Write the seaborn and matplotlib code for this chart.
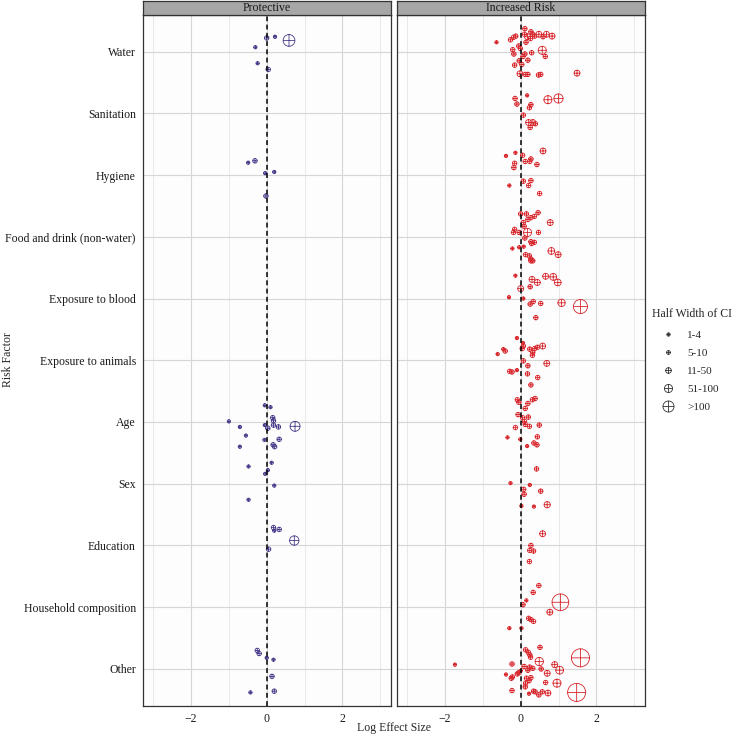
import numpy as np
import pandas as pd
import matplotlib
matplotlib.use("Agg")
import matplotlib.pyplot as plt
from matplotlib.path import Path
from matplotlib.lines import Line2D
import seaborn as sns

# ---- data ----
risk_factors = ["Water", "Sanitation", "Hygiene", "Food and drink (non-water)",
                "Exposure to blood", "Exposure to animals", "Age", "Sex",
                "Education", "Household composition", "Other"]
panels = ["Protective", "Increased Risk"]

# protective estimates (number of points per risk factor, in order)
prot_counts = [6, 0, 5, 0, 0, 0, 17, 6, 5, 0, 7]
prot_effect = [0.00, 0.22, 0.59, -0.30, -0.24, 0.04,
               -0.49, -0.31, -0.04, 0.20, -0.02,
               -0.05, 0.10, 0.16, 0.18, -1.00, -0.05, 0.18, 0.03, 0.31, 0.75, -0.71, -0.55, -0.06, 0.33, -0.71, 0.17, 0.21,
               -0.48, 0.13, 0.03, -0.04, 0.20, -0.48,
               0.18, 0.33, 0.20, 0.73, 0.05,
               -0.25, -0.20, 0.00, 0.18, 0.14, -0.43, 0.20]
prot_jitter = [-0.22, -0.24, -0.18, -0.07, 0.19, 0.29,
               -0.20, -0.23, -0.03, -0.05, 0.34,
               -0.27, -0.24, -0.07, -0.02, -0.01, 0.05, 0.05, 0.10, 0.08, 0.07, 0.08, 0.22, 0.29, 0.28, 0.40, 0.37, 0.40,
               -0.28, -0.34, -0.22, -0.16, 0.03, 0.26,
               -0.29, -0.26, -0.24, -0.08, 0.06,
               -0.30, -0.25, -0.18, -0.15, 0.12, 0.38, 0.36]
prot_halfwidth = [15, 3, 170, 3, 3, 15,
                  3, 15, 3, 3, 15,
                  3, 3, 15, 15, 3, 3, 15, 15, 15, 120, 3, 3, 3, 15, 3, 15, 15,
                  3, 3, 3, 3, 3, 3,
                  15, 15, 3, 105, 15,
                  15, 15, 3, 3, 15, 3, 15]

# increased-risk estimates
risk_counts = [35, 12, 15, 28, 16, 22, 20, 9, 5, 11, 38]
risk_effect = [
    0.11, 0.27, 0.10, 0.32, 0.48, 0.68, 0.83, 0.18, 0.59, 0.37, 0.26, 0.14, -0.13, -0.19, -0.27, -0.64, -0.05, -0.01,
    -0.21, 0.57, -0.18, 0.11, 0.29, 0.06, 0.65, -0.04, 0.19, 0.03, -0.16, -0.02, 0.12, 0.19, 0.47, 0.53, 1.49,
    0.17, -0.15, 0.72, 1.00, -0.10, 0.27, 0.23, 0.07, 0.21, 0.32, 0.39, 0.25,
    0.59, -0.14, -0.39, 0.05, 0.27, 0.12, 0.24, 0.43, -0.16, -0.18, 0.07, 0.27, -0.30, 0.21, 0.50,
    0.00, 0.15, 0.46, 0.36, 0.27, 0.19, 0.78, 0.07, 0.09, -0.16, -0.19, -0.04, 0.18, 0.47, 0.11, 0.27, 0.36, 0.29,
    -0.22, -0.04, 0.08, 0.81, 0.99, 0.13, 0.23, 0.27, 0.32, 0.27,
    -0.14, 0.30, 0.44, 0.66, 0.86, 0.98, 0.25, 0.00, -0.31, 0.07, 0.33, 0.25, 0.53, 1.08, 1.58, 0.40,
    -0.10, 0.06, 0.07, 0.58, 0.44, 0.37, 0.24, 0.04, 0.32, 0.31, -0.46, -0.41, -0.61, 0.69, 0.07, 0.19, -0.29, -0.23,
    -0.10, 0.18, 0.45, 0.27,
    -0.09, -0.05, 0.31, 0.38, 0.19, 0.12, -0.07, 0.20, 0.05, 0.10, 0.12, 0.23, 0.49, -0.14, -0.35, -0.01, 0.44, 0.35,
    0.43, 0.17,
    0.42, -0.27, 0.24, 0.08, 0.53, 0.09, 0.02, 0.35, 0.70,
    0.58, 0.27, 0.24, 0.34, 0.23,
    0.48, 0.33, 0.15, 0.06, 1.05, 0.77, 0.21, 0.27, 0.34, -0.30, 0.02,
    0.51, 0.13, 0.20, 0.24, 0.26, 1.58, 0.49, 0.90, 1.03, -1.74, -0.23, 0.09, 0.24, 0.32, 0.54, 0.19, 0.00, -0.05,
    -0.09, -0.39, 0.70, -0.25, -0.22, 0.15, 0.27, 0.22, 0.13, 0.12, 0.66, 0.96, 1.48, -0.23, 0.22, 0.34, 0.38, 0.48,
    0.57, 0.72]
risk_jitter = [
    -0.37, -0.32, -0.28, -0.28, -0.28, -0.28, -0.25, -0.24, -0.24, -0.25, -0.21, -0.15, -0.25, -0.23, -0.19, -0.15,
    -0.09, -0.05, -0.03, -0.02, 0.04, 0.04, 0.02, 0.08, 0.08, 0.15, 0.14, 0.21, 0.22, 0.36, 0.37, 0.37, 0.38, 0.37, 0.35,
    -0.29, -0.24, -0.22, -0.24, -0.15, -0.14, -0.09, 0.03, 0.15, 0.15, 0.17, 0.23,
    -0.39, -0.36, -0.31, -0.32, -0.26, -0.22, -0.22, -0.17, -0.19, -0.12, 0.10, 0.09, 0.17, 0.17, 0.30,
    -0.37, -0.37, -0.39, -0.33, -0.31, -0.28, -0.23, -0.23, -0.17, -0.12, -0.07, -0.07, -0.07, -0.07, 0.02, 0.08,
    0.09, 0.11, 0.19, 0.17, 0.16, 0.23, 0.29, 0.29, 0.31, 0.36, 0.39, 0.39,
    -0.37, -0.31, -0.26, -0.36, -0.35, -0.26, -0.19, -0.16, -0.02, 0.00, 0.05, 0.09, 0.08, 0.07, 0.13, 0.31,
    -0.36, -0.28, -0.23, -0.23, -0.21, -0.19, -0.18, -0.19, -0.13, -0.08, -0.18, -0.15, -0.10, 0.05, 0.01, 0.09,
    0.18, 0.19, 0.16, 0.22, 0.28, 0.40,
    -0.36, -0.32, -0.36, -0.38, -0.30, -0.22, -0.12, -0.08, -0.07, -0.01, 0.04, 0.07, 0.05, 0.09, 0.25, 0.28, 0.24,
    0.34, 0.37, 0.39,
    -0.24, -0.01, 0.02, 0.09, 0.12, 0.17, 0.36, 0.37, 0.34,
    -0.19, 0.00, 0.08, 0.09, 0.26,
    -0.35, -0.24, -0.11, -0.04, -0.08, 0.08, 0.18, 0.20, 0.23, 0.34, 0.34,
    -0.35, -0.31, -0.27, -0.23, -0.19, -0.18, -0.12, -0.07, 0.02, -0.07, -0.08, -0.04, -0.03, -0.01, 0.00, 0.02,
    0.03, 0.06, 0.08, 0.09, 0.07, 0.15, 0.13, 0.15, 0.14, 0.19, 0.23, 0.29, 0.22, 0.23, 0.38, 0.35, 0.40, 0.36,
    0.37, 0.42, 0.37, 0.39]
risk_halfwidth = [
    15, 15, 15, 15, 35, 35, 35, 35, 15, 15, 15, 15, 15, 15, 15, 3, 15, 15, 15, 75, 15, 15, 15, 15, 15, 15, 15, 15,
    15, 35, 15, 15, 15, 15, 35,
    3, 15, 75, 100, 15, 15, 15, 15, 35, 35, 15, 15,
    35, 3, 3, 15, 15, 15, 15, 15, 15, 15, 15, 15, 3, 15, 15,
    15, 15, 15, 15, 15, 15, 35, 15, 15, 15, 15, 15, 75, 15, 15, 15, 15, 15, 3, 3, 3, 50, 35, 15, 15, 15, 15, 15,
    3, 35, 35, 35, 50, 50, 15, 35, 3, 3, 15, 15, 15, 60, 250, 15,
    3, 3, 15, 35, 15, 15, 15, 15, 15, 15, 3, 15, 3, 35, 15, 15, 15, 15, 3, 15, 15, 15,
    15, 15, 15, 15, 15, 15, 15, 15, 15, 15, 15, 15, 15, 15, 3, 3, 15, 15, 15, 3,
    15, 3, 3, 15, 15, 15, 3, 3, 40,
    35, 15, 15, 15, 15,
    15, 15, 3, 15, 360, 35, 15, 15, 15, 3, 3,
    15, 15, 15, 15, 15, 420, 80, 35, 70, 3, 15, 15, 15, 15, 15, 15, 3, 15, 15, 3, 35, 15, 15, 15, 15, 15, 15, 15,
    15, 75, 420, 15, 3, 15, 15, 15, 15, 35]

ci_breaks = [2.5, 7.5, 30, 75, 150]
ci_labels = ["1-4", "5-10", "11-50", "51-100", ">100"]

# ---- style ----
sns.set_style("white")
plt.rcParams["font.family"] = ["Liberation Serif", "DejaVu Serif"]
plt.rcParams["axes.unicode_minus"] = True

colors = ["darkslateblue", "#D7262C"]
hw_max = 420
px2 = (72 / 100) ** 2            # px^2 -> pt^2 at dpi 100
size_range = (9 * px2, (9 + 0.757 * hw_max) * px2)

# circle with a plus inside (ggplot shape 10)
oplus = Path.make_compound_path(
    Path.unit_circle(),
    Path([[-1, 0], [1, 0], [0, -1], [0, 1]],
         [Path.MOVETO, Path.LINETO, Path.MOVETO, Path.LINETO]))

def make_df(counts, effect, jitter, hw):
    f = np.repeat(np.arange(len(risk_factors)), counts)
    return pd.DataFrame({"effect": effect, "y": f + np.array(jitter), "hw": hw})

dfs = [make_df(prot_counts, prot_effect, prot_jitter, prot_halfwidth),
       make_df(risk_counts, risk_effect, risk_jitter, risk_halfwidth)]

W, H = 741, 735
fig = plt.figure(figsize=(W / 100, H / 100), dpi=100)
fig.patch.set_facecolor("white")

top, bot = 14.5, 706
lefts = [142.7, 396.7]
pw = 248

for i in range(2):
    ax = fig.add_axes([lefts[i] / W, 1 - bot / H, pw / W, (bot - top) / H])
    ax.set_facecolor("#fdfdfd")
    sns.scatterplot(data=dfs[i], x="effect", y="y", size="hw", sizes=size_range,
                    size_norm=(0, hw_max), marker=oplus, color=colors[i],
                    facecolor="none", edgecolor=colors[i], linewidth=0.6,
                    legend=False, ax=ax, zorder=3)
    ax.axvline(0, color="black", lw=1.1, ls=(0, (3.2, 2.2)), zorder=4)
    ax.set_xlim(-3.28, 3.28)
    ax.set_ylim(len(risk_factors) - 0.4, -0.6)
    ax.set_xticks([-2, 0, 2])
    ax.set_xticks([-3, -1, 1, 3], minor=True)
    ax.set_yticks(range(len(risk_factors)))
    ax.grid(True, which="major", color="#d6d6d6", lw=0.8, zorder=0)
    ax.xaxis.grid(True, which="minor", color="#e6e6e6", lw=0.6, zorder=0)
    ax.set_axisbelow(True)
    ax.set_xlabel("")
    ax.set_ylabel("")
    ax.tick_params(axis="both", which="major", length=3, width=0.7, color="#333333",
                   labelsize=8.5, labelcolor="#1a1a1a", pad=2)
    ax.tick_params(which="minor", length=0)
    if i == 0:
        ax.set_yticklabels(risk_factors)
    else:
        ax.tick_params(axis="y", left=False, labelleft=False)
    for sp in ax.spines.values():
        sp.set_color("#333333")
        sp.set_linewidth(0.9)

    # facet strip
    sax = fig.add_axes([lefts[i] / W, 1 - top / H, pw / W, 13.5 / H])
    sax.set_facecolor("#a6a6a6")
    sax.set_xticks([])
    sax.set_yticks([])
    for sp in sax.spines.values():
        sp.set_color("#333333")
        sp.set_linewidth(0.9)
    sax.text(0.5, 0.45, panels[i], ha="center", va="center", fontsize=8.5,
             color="#1a1a1a", transform=sax.transAxes)

fig.text(394 / W, 1 - 728 / H, "Log Effect Size", ha="center", va="center", fontsize=8.5)
fig.text(8 / W, 1 - 360 / H, "Risk Factor", ha="center", va="center", rotation=90, fontsize=8.5)

handles = []
for b in ci_breaks:
    ms = np.sqrt(size_range[0] + (size_range[1] - size_range[0]) * b / hw_max)
    handles.append(Line2D([], [], marker=oplus, ls="", markersize=ms,
                          markerfacecolor="none", markeredgecolor="#333333",
                          markeredgewidth=0.6))
leg = fig.legend(handles, ci_labels, title="Half Width of CI", loc="upper left",
                 bbox_to_anchor=(650 / W, 1 - 306 / H), frameon=False, fontsize=8,
                 title_fontsize=8.5, labelspacing=0.75, handletextpad=0.25,
                 handlelength=2.9, borderaxespad=0, borderpad=0.2)
leg._legend_box.align = "left"
leg._legend_box.sep = 7

fig.savefig("out.png", dpi=100)
